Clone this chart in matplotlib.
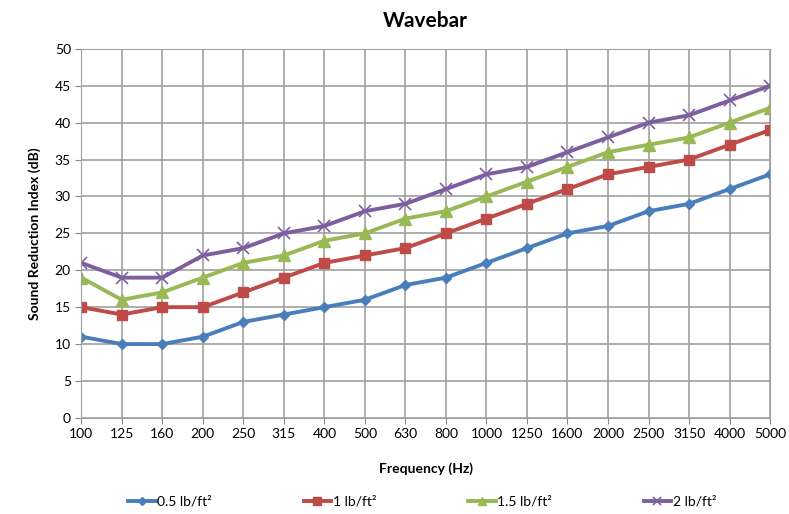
import matplotlib
matplotlib.use("Agg")
import matplotlib.pyplot as plt

plt.rcParams['font.family'] = ['Lato', 'DejaVu Sans']

# frequency bands (Hz) and sound reduction index per surface mass
freqs = ['100', '125', '160', '200', '250', '315', '400', '500', '630', '800',
         '1000', '1250', '1600', '2000', '2500', '3150', '4000', '5000']
sri_05 = [11, 10, 10, 11, 13, 14, 15, 16, 18, 19, 21, 23, 25, 26, 28, 29, 31, 33]
sri_1 = [15, 14, 15, 15, 17, 19, 21, 22, 23, 25, 27, 29, 31, 33, 34, 35, 37, 39]
sri_15 = [19, 16, 17, 19, 21, 22, 24, 25, 27, 28, 30, 32, 34, 36, 37, 38, 40, 42]
sri_2 = [21, 19, 19, 22, 23, 25, 26, 28, 29, 31, 33, 34, 36, 38, 40, 41, 43, 45]
labels = ['0.5 lb/ft²', '1 lb/ft²', '1.5 lb/ft²', '2 lb/ft²']

fig = plt.figure(figsize=(7.89, 5.14), dpi=100)
ax = fig.add_axes([0.103, 0.187, 0.873, 0.718])

x = range(len(freqs))
ax.plot(x, sri_05, color='#4a7ebb', lw=2.8, marker='D', ms=5.5, label=labels[0])
ax.plot(x, sri_1, color='#be4b48', lw=2.8, marker='s', ms=7.5, label=labels[1])
ax.plot(x, sri_15, color='#98b954', lw=2.8, marker='^', ms=8, label=labels[2])
ax.plot(x, sri_2, color='#7d5fa0', lw=2.8, marker='x', ms=8.5, mew=1.2, label=labels[3])

ax.set_xlim(0, len(freqs) - 1)
ax.set_ylim(0, 50)
ax.set_xticks(list(x))
ax.set_xticklabels(freqs)
ax.set_yticks(range(0, 51, 5))
ax.tick_params(labelsize=10, length=4, color='#888888')
ax.grid(True, color='#a0a0a0', lw=1.2)
ax.set_axisbelow(True)
for s in ax.spines.values():
    s.set_color('#a0a0a0')

ax.set_title('Wavebar', fontsize=15, fontweight='bold', pad=16)
ax.set_xlabel('Frequency (Hz)', fontsize=10, fontweight='bold', labelpad=16)
ax.set_ylabel('Sound Reduction Index (dB)', fontsize=10, fontweight='bold', labelpad=10)

fig.legend(loc='lower center', bbox_to_anchor=(0.535, -0.012), ncol=4, frameon=False,
           fontsize=10, columnspacing=6.6, handlelength=2, handletextpad=0.1,
           markerscale=0.7)

fig.savefig('out.png', dpi=100)
